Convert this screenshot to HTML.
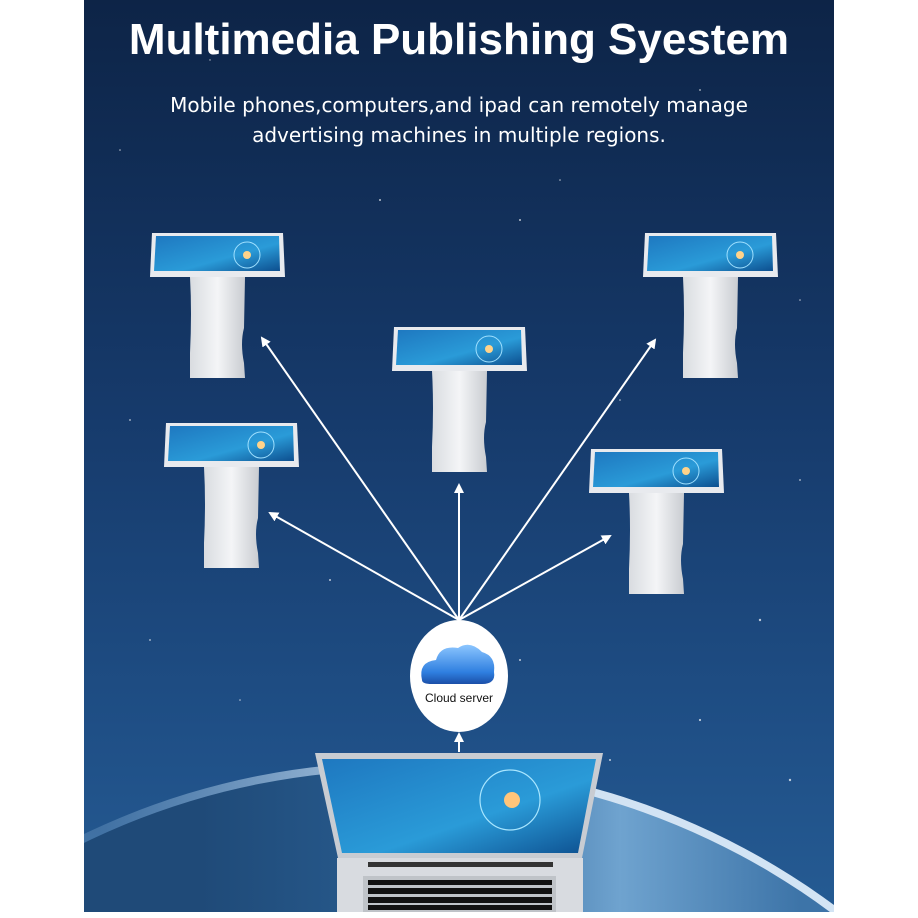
<!DOCTYPE html>
<html><head><meta charset="utf-8"><style>
html,body{margin:0;padding:0;background:#fff;width:918px;height:918px;overflow:hidden}
svg{display:block}
</style></head><body>
<svg width="918" height="918" viewBox="0 0 918 918" xmlns="http://www.w3.org/2000/svg">
<defs>
<linearGradient id="bg" x1="0" y1="0" x2="0" y2="1">
<stop offset="0" stop-color="#0d2447"/><stop offset="0.45" stop-color="#163a6b"/><stop offset="0.8" stop-color="#1f4f86"/><stop offset="1" stop-color="#255b93"/>
</linearGradient>
<linearGradient id="earth" gradientUnits="userSpaceOnUse" x1="200" y1="0" x2="800" y2="0">
<stop offset="0" stop-color="#1f4a78"/><stop offset="0.4" stop-color="#2a5f93"/><stop offset="0.7" stop-color="#6fa3cf"/><stop offset="1" stop-color="#3d74a8"/>
</linearGradient>
<linearGradient id="glowg" gradientUnits="userSpaceOnUse" x1="100" y1="0" x2="700" y2="0">
<stop offset="0" stop-color="#9cc4e6" stop-opacity="0.25"/><stop offset="0.6" stop-color="#e6f3ff" stop-opacity="0.9"/><stop offset="1" stop-color="#e6f3ff" stop-opacity="0.9"/>
</linearGradient>
<linearGradient id="scr" x1="0" y1="0" x2="1" y2="1">
<stop offset="0" stop-color="#1e78c0"/><stop offset="0.6" stop-color="#2a9bd8"/><stop offset="1" stop-color="#0d4f8f"/>
</linearGradient>
<linearGradient id="stand" x1="0" y1="0" x2="1" y2="0">
<stop offset="0" stop-color="#d9dce0"/><stop offset="0.5" stop-color="#f4f5f7"/><stop offset="1" stop-color="#c9ccd1"/>
</linearGradient>
<linearGradient id="cloud" x1="0" y1="0" x2="0" y2="1">
<stop offset="0" stop-color="#8cc6ff"/><stop offset="0.7" stop-color="#2f7fe0"/><stop offset="1" stop-color="#1b4fa8"/>
</linearGradient>
<marker id="ah" markerWidth="10" markerHeight="10" refX="8" refY="5" orient="auto" markerUnits="userSpaceOnUse">
<path d="M0,0 L10,5 L0,10 z" fill="#fff"/>
</marker>
<g id="kiosk">
<path d="M0,0 L131,0 L133,44 L-2,44 z" fill="#e8eaee"/>
<path d="M4,3 L127,3 L128,38 L2,38 z" fill="url(#scr)"/>
<circle cx="95" cy="22" r="13" fill="none" stroke="#9fe0ff" stroke-width="1"/>
<circle cx="95" cy="22" r="4" fill="#ffd38a"/>
<path d="M38,44 L93,44 L92,95 Q88,110 92,130 L93,145 L38,145 L38,120 Q40,80 38,44 z" fill="url(#stand)"/>
</g>
</defs>
<rect x="84" y="0" width="750" height="912" fill="url(#bg)"/>
<g fill="#fff" opacity="0.7">
<circle cx="120" cy="150" r="0.8"/><circle cx="210" cy="60" r="0.7"/><circle cx="380" cy="200" r="1"/><circle cx="560" cy="180" r="0.8"/><circle cx="700" cy="90" r="0.9"/><circle cx="800" cy="300" r="0.8"/><circle cx="130" cy="420" r="0.9"/><circle cx="330" cy="580" r="1"/><circle cx="620" cy="400" r="0.8"/><circle cx="760" cy="620" r="1.2"/><circle cx="700" cy="720" r="1.1"/><circle cx="520" cy="660" r="1"/><circle cx="150" cy="640" r="0.9"/><circle cx="240" cy="700" r="0.8"/><circle cx="800" cy="480" r="0.9"/><circle cx="790" cy="780" r="1.2"/><circle cx="610" cy="760" r="1"/><circle cx="520" cy="220" r="1"/>
</g>
<circle cx="400" cy="1492" r="730" fill="url(#glowg)"/>
<circle cx="400" cy="1492" r="722" fill="url(#earth)"/>
<rect x="834" y="0" width="84" height="918" fill="#fff"/>
<rect x="0" y="912" width="918" height="6" fill="#fff"/>
<rect x="0" y="0" width="84" height="918" fill="#fff"/>
<text x="459" y="54" text-anchor="middle" font-family="Liberation Sans, sans-serif" font-weight="bold" font-size="44" fill="#fff">Multimedia Publishing Syestem</text>
<text x="459" y="112" text-anchor="middle" font-family="DejaVu Sans, sans-serif" font-size="20" fill="#fff">Mobile phones,computers,and ipad can remotely manage</text>
<text x="459" y="142" text-anchor="middle" font-family="DejaVu Sans, sans-serif" font-size="20" fill="#fff">advertising machines in multiple regions.</text>
<use href="#kiosk" transform="translate(152,233)"/>
<use href="#kiosk" transform="translate(645,233)"/>
<use href="#kiosk" transform="translate(394,327)"/>
<use href="#kiosk" transform="translate(166,423)"/>
<use href="#kiosk" transform="translate(591,449)"/>
<g stroke="#fff" stroke-width="2" marker-end="url(#ah)">
<line x1="459" y1="620" x2="262" y2="338"/>
<line x1="459" y1="620" x2="459" y2="485"/>
<line x1="459" y1="620" x2="655" y2="340"/>
<line x1="459" y1="620" x2="270" y2="513"/>
<line x1="459" y1="620" x2="610" y2="536"/>
<line x1="459" y1="752" x2="459" y2="734"/>
</g>
<ellipse cx="459" cy="676" rx="49" ry="56" fill="#fff"/>
<path d="M422,680 Q418,662 436,660 Q440,645 458,648 Q470,640 482,652 Q496,656 494,672 Q496,684 482,684 L432,684 Q422,684 422,680 z" fill="url(#cloud)"/>
<text x="459" y="702" text-anchor="middle" font-family="Liberation Sans, sans-serif" font-size="12" fill="#111">Cloud server</text>
<path d="M315,753 L603,753 L582,858 L338,858 z" fill="#c8ccd2"/>
<path d="M322,759 L596,759 L578,853 L342,853 z" fill="url(#scr)"/>
<circle cx="510" cy="800" r="30" fill="none" stroke="#a8e6ff" stroke-width="1.2"/>
<circle cx="512" cy="800" r="8" fill="#ffc57a"/>
<rect x="337" y="858" width="246" height="54" fill="#d8dbe0"/>
<rect x="368" y="862" width="185" height="5" fill="#333"/>
<rect x="363" y="876" width="193" height="36" fill="#bfc3c8"/>
<g fill="#111">
<rect x="368" y="880" width="184" height="5"/><rect x="368" y="888" width="184" height="6"/><rect x="368" y="897" width="184" height="6"/><rect x="368" y="905" width="184" height="5"/>
</g>
</svg>
</body></html>
